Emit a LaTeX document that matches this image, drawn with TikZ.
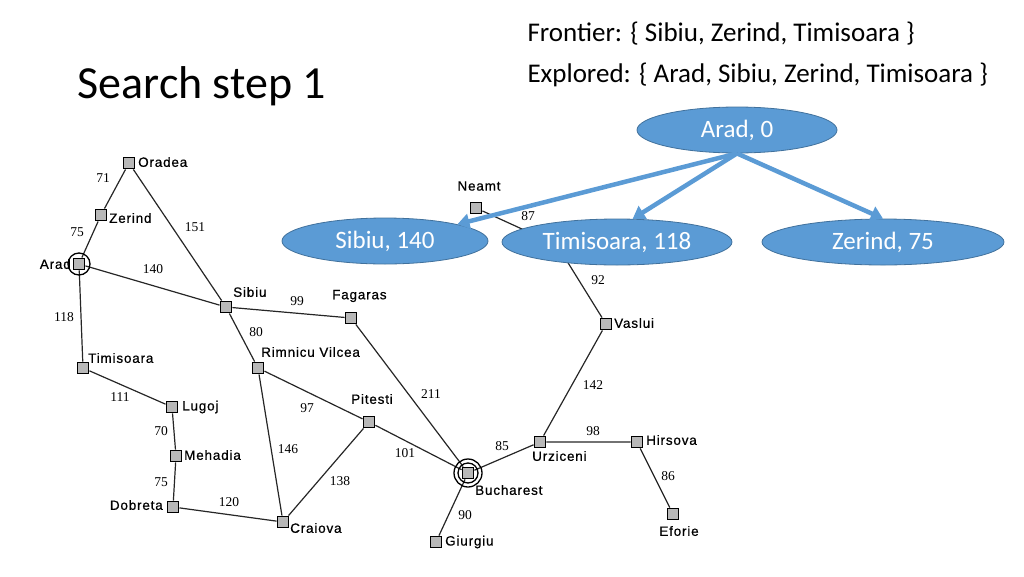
\documentclass[tikz,border=0pt]{standalone}
\usepackage{fontspec}
\setmainfont{Carlito}
\newfontfamily\mapfont[LetterSpace=6,FakeBold=0.6]{Liberation Sans}
\newfontfamily\numfont{Liberation Serif}
\usetikzlibrary{shapes.geometric,arrows.meta,backgrounds}
\definecolor{stepblue}{HTML}{5B9BD5}
\definecolor{stepedge}{HTML}{41719C}
\tikzset{
  town/.style={rectangle,draw=black,fill=black!28,line width=1.9pt,minimum size=11pt,inner sep=0pt},
  townname/.style={font=\mapfont\fontsize{13.5}{14}\selectfont,inner sep=1pt},
  dist/.style={font=\numfont\fontsize{13.5}{14}\selectfont,inner sep=0pt},
  road/.style={draw=black!85,line width=1.2pt},
  state/.style={ellipse,fill=stepblue,draw=stepedge,line width=0.8pt,text=white,
    minimum height=46pt,inner sep=0pt,font=\fontsize{25}{30}\selectfont},
  expand/.style={draw=stepblue,line width=4.5pt,-{Triangle[length=12pt,width=15pt]}}
}
\begin{document}
\begin{tikzpicture}[x=1pt,y=-1pt]
\useasboundingbox (0,0) rectangle (1024,576);

% texts at the top
\node (title) [anchor=west,font=\fontsize{46}{54}\selectfont] at (74,86) {Search step 1};
\node (front) [anchor=west,font=\fontsize{27}{32}\selectfont] at (524,34) {Frontier: \{ Sibiu, Zerind, Timisoara \}};
\node (expl) [anchor=west,font=\fontsize{27}{32}\selectfont] at (524,75) {Explored: \{ Arad, Sibiu, Zerind, Timisoara \}};

% towns
\node (ora) [town] at (129,163) {};
\node (zer) [town] at (101,215) {};
\node (ara) [town] at (79,264) {};
\node (sib) [town] at (226,307) {};
\node (fag) [town] at (351,318) {};
\node (tim) [town] at (83,368) {};
\node (rim) [town] at (258,368) {};
\node (lug) [town] at (172,407) {};
\node (pit) [town] at (369,422) {};
\node (meh) [town] at (176,456) {};
\node (dob) [town] at (173,507) {};
\node (cra) [town] at (283,522) {};
\node (buc) [town] at (468,473) {};
\node (giu) [town] at (436,542) {};
\node (urz) [town] at (540,442) {};
\node (hir) [town] at (637,442) {};
\node (efo) [town] at (673,514) {};
\node (vas) [town] at (606,324) {};
\node (nea) [town] at (476,208) {};
\coordinate (iasi) at (557,245);

\draw [line width=1.3pt] (ara) circle (11pt);
\draw [line width=1.3pt] (buc) circle (14pt) (buc) circle (10pt);

% town names
\node (ora-n) [townname,anchor=west] at (137,162) {Oradea};
\node (zer-n) [townname,anchor=west] at (108,218) {Zerind};
\node (ara-n) [townname,anchor=east] at (72,264) {Arad};
\node (sib-n) [townname,anchor=west] at (232,292) {Sibiu};
\node (fag-n) [townname,anchor=west] at (331,296) {Fagaras};
\node (tim-n) [townname,anchor=west] at (87,358) {Timisoara};
\node (rim-n) [townname,anchor=west] at (260,352) {Rimnicu Vilcea};
\node (lug-n) [townname,anchor=west] at (181,407) {Lugoj};
\node (pit-n) [townname,anchor=west] at (350,399) {Pitesti};
\node (meh-n) [townname,anchor=west] at (183,455) {Mehadia};
\node (dob-n) [townname,anchor=east] at (164,505) {Dobreta};
\node (cra-n) [townname,anchor=west] at (289,528) {Craiova};
\node (buc-n) [townname,anchor=west] at (474,490) {Bucharest};
\node (giu-n) [townname,anchor=west] at (444,542) {Giurgiu};
\node (urz-n) [townname,anchor=west] at (531,456) {Urziceni};
\node (hir-n) [townname,anchor=west] at (645,440) {Hirsova};
\node (efo-n) [townname] at (679,531) {Eforie};
\node (vas-n) [townname,anchor=west] at (613,323) {Vaslui};
\node (nea-n) [townname] at (479,186) {Neamt};

% distances
\node (d-oz) [dist] at (103,178) {71};
\node (d-za) [dist] at (77,232) {75};
\node (d-os) [dist] at (195,227) {151};
\node (d-as) [dist] at (153,269) {140};
\node (d-at) [dist] at (64,317) {118};
\node (d-sf) [dist] at (297,301) {99};
\node (d-sr) [dist] at (256,332) {80};
\node (d-tl) [dist] at (120,397) {111};
\node (d-lm) [dist] at (161,431) {70};
\node (d-md) [dist] at (161,482) {75};
\node (d-dc) [dist] at (229,502) {120};
\node (d-rp) [dist] at (307,408) {97};
\node (d-rc) [dist] at (288,449) {146};
\node (d-pc) [dist] at (340,481) {138};
\node (d-pb) [dist] at (405,453) {101};
\node (d-fb) [dist] at (431,394) {211};
\node (d-bu) [dist] at (502,446) {85};
\node (d-uv) [dist] at (593,385) {142};
\node (d-uh) [dist] at (593,431) {98};
\node (d-he) [dist] at (668,476) {86};
\node (d-bg) [dist] at (465,515) {90};
\node (d-vi) [dist] at (598,280) {92};
\node (d-ni) [dist] at (528,216) {87};

\begin{scope}[on background layer]
\draw [road] (ora)--(zer) (zer)--(ara) (ora)--(sib) (ara)--(sib) (ara)--(tim);
\draw [road] (sib)--(fag) (sib)--(rim) (tim)--(lug) (lug)--(meh) (meh)--(dob);
\draw [road] (dob)--(cra) (rim)--(pit) (rim)--(cra) (pit)--(cra) (pit)--(buc);
\draw [road] (fag)--(buc) (buc)--(urz) (urz)--(vas) (urz)--(hir) (hir)--(efo);
\draw [road] (buc)--(giu) (vas)--(iasi) (nea)--(iasi);
\end{scope}

% search tree
\node (s0) [state,minimum width=200pt] at (737,130) {Arad, 0};
\node (s1) [state,minimum width=206pt] at (385,241) {Sibiu, 140};
\node (s2) [state,minimum width=230pt] at (617,242) {Timisoara, 118};
\node (s3) [state,minimum width=242pt] at (883,242) {Zerind, 75};
\draw [expand] (s0.south) -- (s1.13);
\draw [expand] (s0.south) -- (s2.56);
\draw [expand] (s0.south) -- (s3.north);
\end{tikzpicture}
\end{document}
